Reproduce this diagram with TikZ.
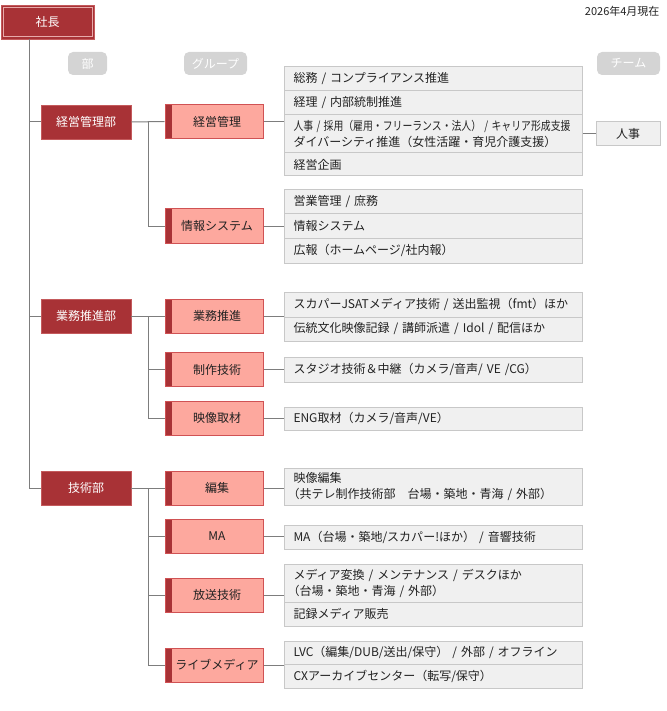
\documentclass[tikz,border=0pt]{standalone}
\usepackage{fontspec}
\usepackage{graphicx}
\setmainfont{Noto Sans CJK JP}
\definecolor{dk}{RGB}{168,50,54}
\definecolor{dkb}{RGB}{196,90,92}
\definecolor{salmon}{RGB}{253,168,158}
\definecolor{grpb}{RGB}{208,82,84}
\definecolor{itemfill}{RGB}{240,240,240}
\definecolor{itemdraw}{RGB}{200,200,200}
\definecolor{conn}{RGB}{125,125,125}
\definecolor{pill}{RGB}{212,212,212}
\definecolor{txt}{RGB}{34,34,34}
\definecolor{inner}{RGB}{232,170,170}
\tikzset{
  x=1pt,y=-1pt,
  every node/.style={font=\fontsize{12}{16}\selectfont, text=txt},
  presbox/.style={fill=dk, draw=dkb, line width=0.8pt, minimum width=93pt, minimum height=34pt, inner sep=0pt, text=white},
  dept/.style={fill=dk, draw=dkb, line width=0.8pt, minimum width=90pt, minimum height=34pt, inner sep=0pt, text=white},
  grp/.style={fill=salmon, draw=grpb, line width=1pt, minimum width=98pt, minimum height=34pt, inner sep=0pt,
    path picture={\fill[dk] (path picture bounding box.north west) rectangle ([xshift=7pt]path picture bounding box.south west);}},
  item/.style={fill=itemfill, draw=itemdraw, line width=1pt, minimum width=298pt, text width=280pt, inner xsep=9pt, inner ysep=0pt, align=left},
  team/.style={fill=itemfill, draw=itemdraw, line width=1pt, minimum width=64pt, minimum height=24pt, inner sep=0pt},
  pilllab/.style={fill=pill, rounded corners=5pt, minimum height=23pt, inner sep=0pt, text=white},
  conline/.style={draw=conn, line width=1pt},
}
\newcommand{\gt}[1]{\hspace*{6pt}#1}
\newcommand{\lp}{\hspace*{-6pt}}
\begin{document}
\begin{tikzpicture}
\useasboundingbox (0,0) rectangle (666,711);
% date
\node[anchor=east, font=\fontsize{11}{13}\selectfont] (date) at (663,11) {2026年4月現在};
% president
\node[presbox] (pres) at (47.5,22) {社長};
\draw[inner, line width=0.8pt] ([xshift=2.5pt,yshift=-2.5pt]pres.north west) rectangle ([xshift=-2.5pt,yshift=2.5pt]pres.south east);
% pills
\node[pilllab, minimum width=39pt] (pb) at (87.5,63.5) {部};
\node[pilllab, minimum width=63pt] (pg) at (215.5,63.5) {グループ};
\node[pilllab, minimum width=63pt] (pt) at (628.5,63.5) {チーム};
% departments
\node[dept] (d1) at (86,122) {経営管理部};
\node[dept] (d2) at (86,316) {業務推進部};
\node[dept] (d3) at (86,488) {技術部};
% groups
\node[grp] (g1) at (214,121.5) {\gt{経営管理}};
\node[grp] (g2) at (214,226) {\gt{情報システム}};
\node[grp] (g3) at (214,316) {\gt{業務推進}};
\node[grp] (g4) at (214,369.5) {\gt{制作技術}};
\node[grp] (g5) at (214,418) {\gt{映像取材}};
\node[grp] (g6) at (214,488) {\gt{編集}};
\node[grp] (g7) at (214,536) {\gt{MA}};
\node[grp] (g8) at (214,595) {\gt{放送技術}};
\node[grp] (g9) at (214,665) {\gt{ライブメディア}};
% items
\node[item, minimum height=24pt] (a1) at (433.5,79) {総務 / コンプライアンス推進};
\node[item, minimum height=24pt] (a2) at (433.5,103) {経理 / 内部統制推進};
\node[item, minimum height=38pt] (a3) at (433.5,134) {\resizebox{277pt}{\height}{人事 / 採用（雇用・フリーランス・法人） / キャリア形成支援}\\ダイバーシティ推進（女性活躍・育児介護支援）};
\node[item, minimum height=23pt] (a4) at (433.5,164.5) {経営企画};
\node[item, minimum height=24pt] (b1) at (433.5,202) {営業管理 / 庶務};
\node[item, minimum height=24pt] (b2) at (433.5,226) {情報システム};
\node[item, minimum height=25pt] (b3) at (433.5,250.5) {広報（ホームページ/社内報）};
\node[item, minimum height=25pt] (c1) at (433.5,304.5) {スカパーJSATメディア技術 / 送出監視（fmt）ほか};
\node[item, minimum height=24pt] (c2) at (433.5,329) {伝統文化映像記録 / 講師派遣 / Idol / 配信ほか};
\node[item, minimum height=25pt] (dd) at (433.5,369.5) {スタジオ技術＆中継（カメラ/音声/ VE /CG）};
\node[item, minimum height=23pt] (e1) at (433.5,418.5) {ENG取材（カメラ/音声/VE）};
\node[item, minimum height=37pt] (f1) at (433.5,486.5) {映像編集\\\lp（共テレ制作技術部　台場・築地・青海 / 外部）};
\node[item, minimum height=24pt] (h0) at (433.5,537) {MA（台場・築地/スカパー!ほか） / 音響技術};
\node[item, minimum height=38pt] (h1) at (433.5,583) {メディア変換 / メンテナンス / デスクほか\\\lp（台場・築地・青海 / 外部）};
\node[item, minimum height=24pt] (h2) at (433.5,614) {記録メディア販売};
\node[item, minimum height=23pt] (i1) at (433.5,652.5) {LVC（編集/DUB/送出/保守） / 外部 / オフライン};
\node[item, minimum height=24pt] (i2) at (433.5,676) {CXアーカイブセンター（転写/保守）};
% team
\node[team] (tm) at (628,134) {人事};
% connectors
\coordinate (tk) at (29,0);
\coordinate (br) at (148,0);
\draw[conline] (tk |- pres.south) -- (tk |- d3.west) -- (d3.west);
\draw[conline] (tk |- d1.west) -- (d1.west);
\draw[conline] (tk |- d2.west) -- (d2.west);
\draw[conline] (d1.east) -- (g1.west);
\draw[conline] (br |- g1.west) -- (br |- g2.west) -- (g2.west);
\draw[conline] (d2.east) -- (g3.west);
\draw[conline] (br |- g3.west) -- (br |- g5.west) -- (g5.west);
\draw[conline] (br |- g4.west) -- (g4.west);
\draw[conline] (d3.east) -- (g6.west);
\draw[conline] (br |- g6.west) -- (br |- g9.west) -- (g9.west);
\draw[conline] (br |- g7.west) -- (g7.west);
\draw[conline] (br |- g8.west) -- (g8.west);
\draw[conline] (g1.east) -- (g1.east -| a1.west);
\draw[conline] (g2.east) -- (g2.east -| b1.west);
\draw[conline] (g3.east) -- (g3.east -| c1.west);
\draw[conline] (g4.east) -- (dd.west);
\draw[conline] (g5.east) -- (g5.east -| e1.west);
\draw[conline] (g6.east) -- (g6.east -| f1.west);
\draw[conline] (g7.east) -- (g7.east -| h0.west);
\draw[conline] (g8.east) -- (g8.east -| h1.west);
\draw[conline] (g9.east) -- (g9.east -| i1.west);
\draw[conline] (a3.east) -- (tm.west);
\end{tikzpicture}
\end{document}
